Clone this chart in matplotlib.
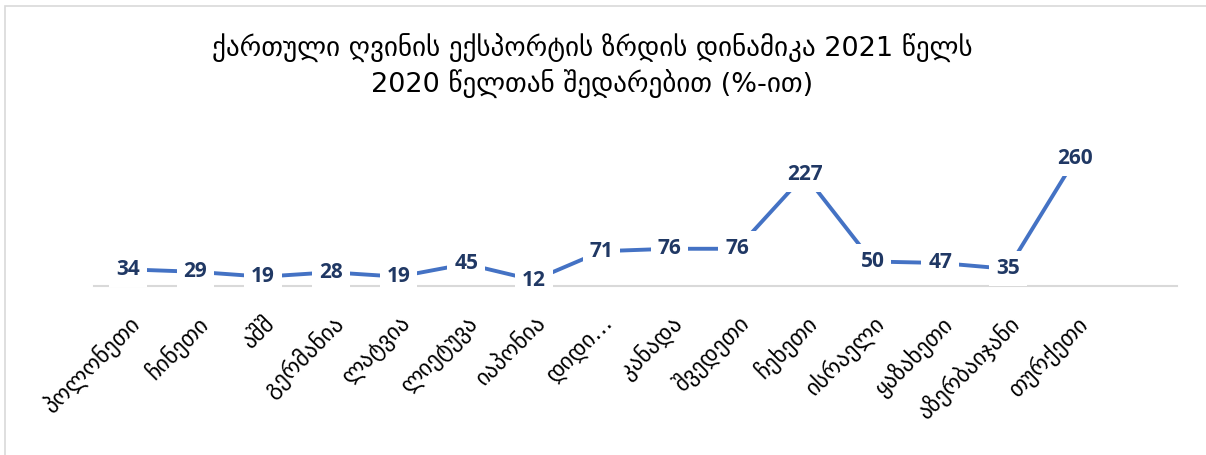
import matplotlib
matplotlib.use("Agg")
import matplotlib.pyplot as plt
from matplotlib.patches import Rectangle

# Data
countries = ["პოლონეთი", "ჩინეთი", "აშშ", "გერმანია", "ლატვია", "ლიეტუვა",
             "იაპონია", "დიდი…", "კანადა", "შვედეთი", "ჩეხეთი", "ისრაელი",
             "ყაზახეთი", "აზერბაიჯანი", "თურქეთი"]
growth = [34, 29, 19, 28, 19, 45, 12, 71, 76, 76, 227, 50, 47, 35, 260]

title = "ქართული ღვინის ექსპორტის ზრდის დინამიკა 2021 წელს\n2020 წელთან შედარებით (%-ით)"

fig = plt.figure(figsize=(12.06, 4.55), dpi=100)
ax = fig.add_axes([94 / 1206, 169 / 455, (1177 - 94) / 1206, 0.323])

x = list(range(len(countries)))
ax.plot(x, growth, color="#4472C4", linewidth=2.8, zorder=2)

for xi, v in zip(x, growth):
    ax.text(xi, v, str(v), ha="center", va="center", fontsize=15,
            fontweight="bold", color="#203864", family=["Open Sans", "DejaVu Sans"],
            bbox=dict(facecolor="white", edgecolor="none", pad=5),
            zorder=5, clip_on=False)

ax.set_xlim(-0.5, 15.5)
ax.set_ylim(0, 300)
ax.set_xticks(x)
ax.set_xticklabels(countries, rotation=45, ha="right", rotation_mode="anchor",
                   fontsize=16.5, family="DejaVu Sans")
ax.tick_params(axis="x", length=0, pad=18)
ax.set_yticks([])
for s in ["top", "right", "left"]:
    ax.spines[s].set_visible(False)
ax.spines["bottom"].set_color("#D9D9D9")
ax.spines["bottom"].set_linewidth(1.5)

fig.text(592 / 1206, 1 - 66 / 455, title, ha="center", va="center",
         fontsize=19.5, linespacing=1.3, family="DejaVu Sans")

# light border around the chart area
fig.patches.append(Rectangle((5 / 1206, -0.1), 1.2, 1 - 6 / 455 + 0.1,
                             transform=fig.transFigure, fill=False,
                             edgecolor="#D9D9D9", linewidth=1.2))

fig.savefig("out.png", dpi=100)
